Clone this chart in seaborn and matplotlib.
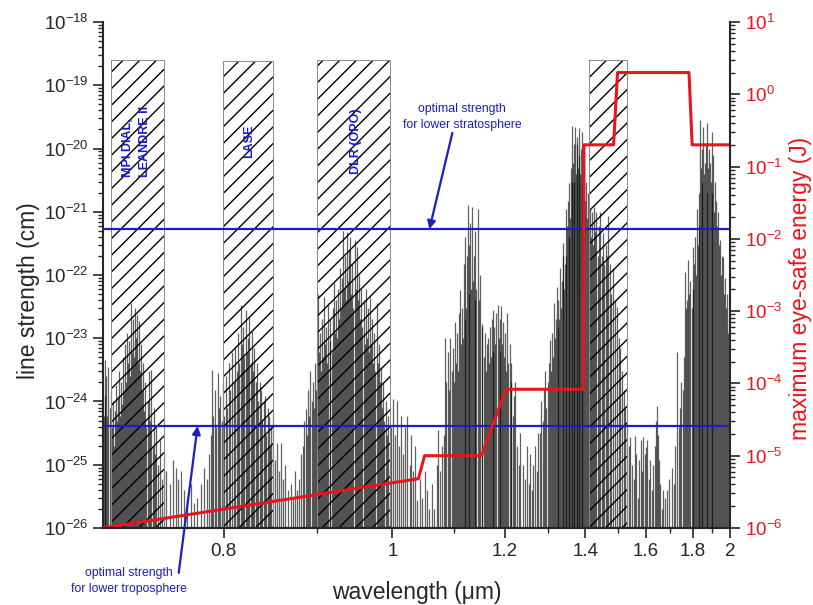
import numpy as np
import pandas as pd
import matplotlib
matplotlib.use("Agg")
import matplotlib.pyplot as plt
import seaborn as sns
from matplotlib.patches import Rectangle
from matplotlib.ticker import FixedLocator, FixedFormatter, LogLocator, NullFormatter

# ---------------- data ----------------
# absorption lines: wavelength (um) and line strength (cm)
band_070_wl = [0.7005, 0.7012, 0.7018, 0.7025, 0.7032, 0.7040, 0.7048, 0.7055, 0.7063, 0.7070,
               0.7078, 0.7085, 0.7093, 0.7100, 0.7108, 0.7115, 0.7122, 0.7130, 0.7137, 0.7145,
               0.7152, 0.7160, 0.7168, 0.7175, 0.7183, 0.7190, 0.7198, 0.7206, 0.7214, 0.7222,
               0.7230, 0.7238, 0.7245, 0.7252, 0.7260, 0.7268, 0.7276, 0.7284, 0.7292, 0.7300,
               0.7310, 0.7320, 0.7330, 0.7340, 0.7350, 0.7360, 0.7370, 0.7380, 0.7390, 0.7400,
               0.7410, 0.7425, 0.7440, 0.7455, 0.7470, 0.7490]
band_070_s = [6e-25, 4.5e-24, 1.2e-24, 2.5e-24, 6e-25, 3.5e-24, 8e-25, 1.5e-24, 4e-25, 1e-24,
              2e-25, 7e-25, 1.8e-24, 5e-25, 1.2e-24, 3e-24, 6e-25, 2e-24, 9e-25, 5e-24,
              1.5e-24, 8e-24, 2e-24, 1.2e-23, 4e-24, 9e-24, 2.5e-24, 3.6e-23, 6e-24, 2e-23,
              5e-24, 3e-23, 1e-23, 2.3e-23, 4e-24, 1.9e-23, 3e-24, 8e-24, 1.5e-24, 4e-24,
              7e-25, 2e-24, 4e-25, 1e-24, 3e-24, 5e-25, 3.2e-24, 2e-25, 8e-25, 1.5e-25,
              4e-25, 1e-25, 2.5e-25, 6e-26, 1.5e-25, 8e-26]

gap_075_wl = [0.7520, 0.7545, 0.7570, 0.7590, 0.7613, 0.7640, 0.7670, 0.7700, 0.7730, 0.7760,
              0.7790, 0.7820, 0.7845, 0.7865]
gap_075_s = [5e-26, 1.2e-25, 9e-26, 6e-26, 8e-26, 4e-26, 3e-26, 5e-26, 2.5e-26, 3e-26,
             5e-26, 9e-26, 6e-26, 1.5e-25]

band_080_wl = [0.7880, 0.7895, 0.7905, 0.7918, 0.7930, 0.7945, 0.7956, 0.7970, 0.7982, 0.7995,
               0.8008, 0.8020, 0.8035, 0.8050, 0.8065, 0.8080, 0.8095, 0.8110, 0.8125, 0.8140,
               0.8152, 0.8164, 0.8178, 0.8190, 0.8202, 0.8214, 0.8226, 0.8238, 0.8250, 0.8264,
               0.8277, 0.8290, 0.8300, 0.8315, 0.8330, 0.8345, 0.8360, 0.8370, 0.8385, 0.8400,
               0.8410, 0.8425, 0.8440, 0.8450, 0.8465, 0.8480, 0.8500, 0.8520, 0.8545, 0.8565,
               0.8580, 0.8605, 0.8630, 0.8660]
band_080_s = [3e-25, 3.2e-24, 6e-25, 1.5e-24, 4e-25, 2.8e-24, 8e-25, 1.2e-24, 5e-25, 2e-24,
              6e-25, 2.5e-24, 8e-25, 4e-24, 1.5e-24, 6e-24, 2e-24, 7e-24, 3e-24, 1.2e-23,
              4e-24, 3.4e-23, 8e-24, 1.5e-23, 5e-24, 2.8e-23, 6e-24, 1e-23, 2.2e-23, 4e-24,
              1.3e-23, 3e-24, 7e-24, 2e-24, 4e-24, 1e-24, 2e-24, 1.5e-24, 5e-25, 1e-24,
              1.2e-24, 3e-25, 8e-25, 6e-25, 2e-25, 4e-25, 6.5e-25, 1.2e-25, 2.2e-25, 8e-26,
              2.2e-25, 6e-26, 1e-25, 4e-26]

gap_087_wl = [0.8690, 0.8715, 0.8740, 0.8765, 0.8790, 0.8810]
gap_087_s = [5e-26, 3e-26, 8e-26, 4e-26, 6e-26, 1.5e-25]

band_094_wl = [0.8830, 0.8845, 0.8860, 0.8875, 0.8890, 0.8905, 0.8918, 0.8930, 0.8942, 0.8955,
               0.8968, 0.8980, 0.8992, 0.9005, 0.9018, 0.9030, 0.9043, 0.9056, 0.9068, 0.9080,
               0.9093, 0.9106, 0.9120, 0.9135, 0.9148, 0.9160, 0.9173, 0.9186, 0.9200, 0.9213,
               0.9226, 0.9240, 0.9253, 0.9266, 0.9280, 0.9293, 0.9306, 0.9320, 0.9333, 0.9346,
               0.9360, 0.9373, 0.9386, 0.9400, 0.9413, 0.9426, 0.9440, 0.9455, 0.9470, 0.9485,
               0.9500, 0.9515, 0.9530, 0.9545, 0.9560, 0.9575, 0.9590, 0.9605, 0.9620, 0.9635,
               0.9650, 0.9665, 0.9680, 0.9695, 0.9710, 0.9725, 0.9740, 0.9755, 0.9770, 0.9785,
               0.9800, 0.9815, 0.9830, 0.9845, 0.9860, 0.9880, 0.9900, 0.9920, 0.9940, 0.9960]
band_094_s = [2e-25, 5e-25, 7.5e-25, 3e-25, 1.5e-24, 6e-25, 3e-24, 1e-24, 2e-24, 8e-25,
              4e-24, 1.5e-24, 8e-24, 5e-23, 6e-24, 1.2e-23, 3e-24, 2e-23, 5e-24, 4.5e-23,
              8e-24, 1.5e-23, 4e-24, 3.6e-23, 9e-24, 2e-23, 6e-24, 3e-23, 7.5e-23, 1.2e-23,
              4e-23, 1e-23, 6e-23, 2e-23, 1.3e-22, 3e-23, 9e-23, 5e-22, 6e-23, 2e-22,
              4e-23, 4.8e-22, 8e-23, 2.5e-22, 4e-22, 5e-23, 1.5e-22, 3e-23, 3.6e-22, 6e-23,
              2.8e-22, 4e-23, 1e-22, 2e-23, 6e-23, 1.5e-23, 4e-23, 8e-24, 6e-23, 1e-23,
              3e-23, 6e-24, 4.5e-23, 8e-24, 2e-23, 4e-24, 1.2e-23, 3e-24, 3.6e-23, 4e-24,
              8e-24, 2e-24, 3.5e-24, 8e-25, 2e-24, 5e-25, 1e-24, 3e-25, 6e-25, 2e-25]

band_102_wl = [0.9985, 1.0010, 1.0040, 1.0075, 1.0100, 1.0130, 1.0160, 1.0190, 1.0227, 1.0260,
               1.0290, 1.0320, 1.0350, 1.0380, 1.0420, 1.0460, 1.0500, 1.0540, 1.0580, 1.0620]
band_102_s = [4e-25, 1.1e-24, 3e-25, 1e-24, 2e-25, 6e-25, 1.5e-25, 4e-25, 6e-25, 1e-25,
              3e-25, 8e-26, 2e-25, 2.8e-26, 6e-26, 3e-26, 8e-26, 4e-26, 2e-26, 5e-26]

band_114_wl = [1.0650, 1.0700, 1.0730, 1.0760, 1.0790, 1.0820, 1.0850, 1.0870, 1.0890, 1.0910,
               1.0938, 1.0960, 1.0985, 1.1005, 1.1028, 1.1045, 1.1060, 1.1080, 1.1100, 1.1118,
               1.1135, 1.1150, 1.1165, 1.1180, 1.1195, 1.1211, 1.1225, 1.1240, 1.1257, 1.1270,
               1.1285, 1.1304, 1.1320, 1.1340, 1.1355, 1.1370, 1.1385, 1.1400, 1.1420, 1.1448,
               1.1470, 1.1497, 1.1520, 1.1536, 1.1560, 1.1580, 1.1600, 1.1620, 1.1640, 1.1660,
               1.1680, 1.1700, 1.1720, 1.1740, 1.1760, 1.1780, 1.1800, 1.1820, 1.1844, 1.1865,
               1.1885, 1.1905, 1.1925, 1.1945, 1.1965, 1.1985, 1.2005, 1.2025, 1.2050, 1.2075,
               1.2100, 1.2120, 1.2140, 1.2165, 1.2190, 1.2224, 1.2260, 1.2300, 1.2336]
band_114_s = [2e-26, 1e-25, 3.5e-25, 8e-26, 2e-25, 3e-25, 1e-23, 2e-24, 6e-24, 1.5e-24,
              1e-23, 3e-24, 7e-24, 2e-24, 1.8e-23, 4e-24, 1.2e-23, 3e-24, 2.5e-23, 5.8e-23,
              8e-24, 3e-23, 1e-23, 1.5e-22, 2e-23, 4e-22, 3e-23, 2e-22, 1.3e-21, 5e-23,
              3e-22, 6.6e-22, 6e-23, 1.2e-21, 8e-23, 2e-22, 4e-23, 5e-22, 6e-23, 1.1e-21,
              4e-23, 1e-22, 1.5e-23, 1.7e-23, 5e-24, 1.2e-23, 3e-24, 8e-24, 1e-23, 4e-24,
              1.5e-23, 5e-24, 2e-23, 2.8e-23, 6e-24, 1.5e-23, 8e-24, 2.5e-23, 3.4e-23, 1e-23,
              2e-23, 6e-24, 3.2e-23, 8e-24, 1.8e-23, 5e-24, 1.2e-23, 3e-24, 2.5e-23, 4e-24,
              8e-24, 4e-24, 2e-24, 6e-25, 1.2e-24, 2e-24, 2e-25, 1e-25, 3.2e-25]

band_137_wl = [1.2400, 1.2450, 1.2490, 1.2530, 1.2570, 1.2605, 1.2640, 1.2680, 1.2720, 1.2760,
               1.2800, 1.2830, 1.2860, 1.2890, 1.2925, 1.2955, 1.2985, 1.3015, 1.3050, 1.3075,
               1.3100, 1.3125, 1.3150, 1.3175, 1.3200, 1.3220, 1.3240, 1.3260, 1.3280, 1.3307,
               1.3330, 1.3350, 1.3370, 1.3390, 1.3410, 1.3430, 1.3450, 1.3470, 1.3490, 1.3510,
               1.3530, 1.3550, 1.3570, 1.3590, 1.3610, 1.3630, 1.3650, 1.3670, 1.3690, 1.3710,
               1.3730, 1.3750, 1.3770, 1.3790, 1.3810, 1.3830, 1.3850, 1.3870, 1.3890, 1.3910,
               1.3935, 1.3960, 1.3985, 1.4010, 1.4040, 1.4070, 1.4100, 1.4130, 1.4160, 1.4190,
               1.4220, 1.4250, 1.4290, 1.4330, 1.4370, 1.4410, 1.4450, 1.4490, 1.4530, 1.4570,
               1.4610, 1.4650, 1.4700, 1.4750, 1.4800, 1.4860, 1.4920, 1.4980, 1.5040, 1.5090,
               1.5150, 1.5210, 1.5260, 1.5320]
band_137_s = [1e-25, 6e-26, 2e-25, 5e-26, 1.5e-25, 4e-26, 1e-25, 2e-25, 8e-26, 3.2e-25,
              3.2e-25, 1e-24, 5e-25, 1.5e-24, 3e-24, 8e-25, 2e-24, 4e-24, 9.5e-24, 3e-24,
              1.2e-23, 5e-24, 3.6e-23, 1e-23, 2e-23, 6.5e-23, 1.5e-23, 4e-23, 2e-23, 1.3e-22,
              3e-23, 8e-23, 2e-22, 3.2e-22, 6e-23, 1.5e-22, 1.1e-21, 2e-22, 6e-22, 1.5e-21,
              4e-22, 2.8e-21, 8e-22, 5e-21, 2.3e-20, 3e-21, 6e-21, 1.2e-20, 3e-21, 2.2e-20,
              4e-21, 1.5e-20, 1.2e-20, 5e-21, 8e-21, 2.1e-20, 4e-21, 1e-20, 3e-21, 1.8e-20,
              2e-21, 6e-21, 1.5e-21, 3e-21, 8e-22, 2e-21, 6e-22, 1.1e-21, 4e-22, 1e-21,
              3e-22, 1.2e-21, 5e-22, 1e-21, 2e-22, 6e-22, 1e-21, 2e-22, 4.6e-22, 1.5e-22,
              3e-22, 2e-22, 8.5e-22, 1.5e-22, 5e-23, 1.3e-22, 4e-23, 3.1e-23, 1e-23, 7e-24,
              3e-24, 1.5e-24, 8e-25, 4e-25]

band_162_wl = [1.5380, 1.5430, 1.5500, 1.5560, 1.5612, 1.5650, 1.5700, 1.5760, 1.5820, 1.5870,
               1.5910, 1.5960, 1.6010, 1.6060, 1.6110, 1.6172, 1.6230, 1.6290, 1.6350, 1.6410,
               1.6460, 1.6490, 1.6530, 1.6570, 1.6640, 1.6700, 1.6774, 1.6860, 1.6950, 1.7070,
               1.7150]
band_162_s = [2e-25, 2.7e-25, 1e-25, 6e-26, 2.8e-25, 1.5e-25, 3e-26, 1.2e-25, 2.5e-25, 8e-26,
              2.7e-25, 1.5e-25, 1.9e-25, 2.5e-25, 6e-26, 1.2e-25, 4e-26, 1e-25, 2e-25, 5e-25,
              8.6e-25, 3e-25, 1.2e-25, 5e-26, 2e-26, 4e-26, 3e-26, 4e-26, 6e-26, 9e-26,
              5e-26]

band_187_wl = [1.7200, 1.7290, 1.7350, 1.7420, 1.7480, 1.7540, 1.7600, 1.7650, 1.7700, 1.7750,
               1.7800, 1.7850, 1.7900, 1.7950, 1.8000, 1.8040, 1.8080, 1.8120, 1.8160, 1.8210,
               1.8250, 1.8290, 1.8330, 1.8370, 1.8410, 1.8450, 1.8490, 1.8530, 1.8570, 1.8620,
               1.8660, 1.8700, 1.8740, 1.8780, 1.8830, 1.8880, 1.8920, 1.8960, 1.9000, 1.9050,
               1.9100, 1.9150, 1.9200, 1.9240, 1.9300, 1.9350, 1.9415, 1.9470, 1.9530, 1.9590,
               1.9650, 1.9700, 1.9760, 1.9820, 1.9880, 1.9950]
band_187_s = [2e-25, 6e-24, 4e-25, 8e-25, 2e-24, 1.5e-24, 5e-24, 1.1e-22, 3e-23, 4e-23,
              1.7e-22, 5e-23, 8e-23, 3e-23, 2.8e-22, 6e-23, 1.5e-22, 4e-22, 1e-22, 1.1e-21,
              3e-22, 2e-21, 6e-22, 2.8e-20, 5e-21, 1e-20, 3e-21, 2.2e-20, 4e-21, 6e-21,
              1.2e-20, 2e-21, 2.5e-20, 5e-21, 1e-20, 6e-21, 3e-21, 1.8e-20, 2e-21, 8e-21,
              1e-21, 3e-21, 1.5e-21, 6e-22, 1e-21, 3e-22, 3.6e-22, 1e-22, 2e-22, 1.9e-22,
              5e-23, 9e-23, 3e-23, 5e-23, 1.2e-23, 2e-23]

# instrument windows (hatched boxes)
hatch_lo = [0.706, 0.799, 0.900, 1.410]
hatch_hi = [0.747, 0.850, 0.996, 1.531]
hatch_top = [2.5e-19, 2.4e-19, 2.5e-19, 2.5e-19]
hatch_labels = ["MPI DIAL,\nLEANDRE II", "LASE", "DLR (OPO)"]
hatch_label_x = [0.7250, 0.8245, 0.9490]
hatch_label_y = 1.3e-20

# optimal line strengths
opt_strat = 5.3e-22
opt_trop = 4.1e-25

# maximum eye-safe energy (J), right axis
red_wl = [0.700, 1.040, 1.050, 1.152, 1.202, 1.394, 1.396, 1.487, 1.500, 1.783, 1.798, 2.000]
red_E = [1e-6, 4.8e-6, 1e-5, 1e-5, 8.3e-5, 8.3e-5, 0.2, 0.2, 2.0, 2.0, 0.2, 0.2]

xticks = [0.8, 1.0, 1.2, 1.4, 1.6, 1.8, 2.0]
xtick_labels = ["0.8", "1", "1.2", "1.4", "1.6", "1.8", "2"]
xminor = [0.9, 1.1, 1.3, 1.5, 1.7, 1.9]
xlim = (0.70, 2.0)
ylim_left = (1e-26, 1e-18)
ylim_right = (1e-6, 1e1)

# ---------------- style ----------------
sns.set_style("ticks")
plt.rcParams["font.family"] = ["Liberation Sans", "DejaVu Sans"]
plt.rcParams["mathtext.fontset"] = "custom"
plt.rcParams["mathtext.rm"] = "Liberation Sans"
plt.rcParams["mathtext.it"] = "Liberation Sans:italic"
plt.rcParams["mathtext.bf"] = "Liberation Sans:bold"
plt.rcParams["hatch.linewidth"] = 1.0
plt.rcParams["axes.linewidth"] = 1.5

BLUE = "#1c1cc8"
RED = "#e8161c"

bands = [(band_070_wl, band_070_s), (gap_075_wl, gap_075_s), (band_080_wl, band_080_s),
         (gap_087_wl, gap_087_s), (band_094_wl, band_094_s), (band_102_wl, band_102_s),
         (band_114_wl, band_114_s), (band_137_wl, band_137_s), (band_162_wl, band_162_s),
         (band_187_wl, band_187_s)]
lines = pd.concat([pd.DataFrame({"wl": w, "S": s}) for w, s in bands], ignore_index=True)


def fwd(x):
    x = np.asarray(x, dtype=float)
    with np.errstate(divide="ignore", invalid="ignore"):
        return -1.0 / x


def inv(y):
    y = np.asarray(y, dtype=float)
    with np.errstate(divide="ignore", invalid="ignore"):
        return -1.0 / y


fig = plt.figure(figsize=(8.13, 6.05), dpi=100)
ax = fig.add_axes([0.1267, 0.1273, 0.898 - 0.1267, 0.9636 - 0.1273])
ax.set_xscale("function", functions=(fwd, inv))
ax.set_yscale("log")
ax.set_xlim(*xlim)
ax.set_ylim(*ylim_left)

# spectral lines
ax.vlines(lines["wl"], ylim_left[0], lines["S"], colors="black", alpha=0.62,
          linewidth=0.9, zorder=1)

# hatched windows
for lo, hi, top in zip(hatch_lo, hatch_hi, hatch_top):
    ax.add_patch(Rectangle((lo, ylim_left[0]), hi - lo, top - ylim_left[0],
                           facecolor="none", edgecolor="black", linewidth=0,
                           hatch="//", zorder=2))
    ax.add_patch(Rectangle((lo, ylim_left[0]), hi - lo, top - ylim_left[0],
                           facecolor="none", edgecolor="#8a8a8a", linewidth=0.7,
                           zorder=2.1))
for lab, xl in zip(hatch_labels, hatch_label_x):
    ax.text(xl, hatch_label_y, lab, rotation=90, ha="center", va="center",
            multialignment="left", color=BLUE, fontsize=9, fontweight="bold",
            linespacing=1.6, zorder=5)

# optimal strength lines
ax.axhline(opt_strat, color=BLUE, linewidth=1.6, zorder=4)
ax.axhline(opt_trop, color=BLUE, linewidth=1.6, zorder=4)

ax.text(1.1155, 3.15e-20, "optimal strength\nfor lower stratosphere", color=BLUE,
        fontsize=8.8, ha="center", va="center", linespacing=1.35)
ax.annotate("", xy=(1.0579, opt_strat), xytext=(1.0974, 1.76e-20),
            arrowprops=dict(arrowstyle="-|>", color=BLUE, lw=1.6, mutation_scale=12,
                            shrinkA=0, shrinkB=0))
ax.text(0.7191, 1.45e-27, "optimal strength\nfor lower troposphere", color=BLUE,
        fontsize=8.8, ha="center", va="center", linespacing=1.35, clip_on=False)
ax.annotate("", xy=(0.7761, opt_trop), xytext=(0.7596, 1.95e-27),
            arrowprops=dict(arrowstyle="-|>", color=BLUE, lw=1.6, mutation_scale=12,
                            shrinkA=0, shrinkB=0), annotation_clip=False)

# axes formatting (left / bottom)
ax.xaxis.set_major_locator(FixedLocator(xticks))
ax.xaxis.set_major_formatter(FixedFormatter(xtick_labels))
ax.xaxis.set_minor_locator(FixedLocator(xminor))
ax.xaxis.set_minor_formatter(NullFormatter())
ax.yaxis.set_major_locator(LogLocator(base=10, numticks=20))
ax.yaxis.set_minor_locator(LogLocator(base=10, subs=np.arange(2, 10), numticks=200))
ax.yaxis.set_minor_formatter(NullFormatter())
ax.tick_params(which="major", direction="out", length=7, width=1.2, labelsize=13.5)
ax.tick_params(which="minor", direction="out", length=3.5, width=1.0)
ax.spines["top"].set_visible(False)
ax.spines["right"].set_visible(False)
ax.set_xlabel("wavelength (\u03bcm)", fontsize=16.5)
ax.set_ylabel("line strength (cm)", fontsize=16.5)
ax.xaxis.set_label_coords(0.5, -0.105)
ax.yaxis.set_label_coords(-0.100, 0.47)

# right axis: eye-safe energy
ax2 = ax.twinx()
ax2.set_yscale("log")
ax2.set_ylim(*ylim_right)
sns.lineplot(x=red_wl, y=red_E, ax=ax2, color=RED, linewidth=2.2, sort=False,
             estimator=None)
ax2.set_xlim(*xlim)
ax2.yaxis.set_major_locator(LogLocator(base=10, numticks=20))
ax2.yaxis.set_minor_locator(LogLocator(base=10, subs=np.arange(2, 10), numticks=200))
ax2.yaxis.set_minor_formatter(NullFormatter())
ax2.tick_params(which="major", direction="out", length=7, width=1.2, labelsize=13.5,
                labelcolor=RED)
ax2.tick_params(which="minor", direction="out", length=3.5, width=1.0)
ax2.spines["top"].set_visible(False)
ax2.spines["left"].set_visible(False)
ax2.set_ylabel("maximum eye-safe energy (J)", fontsize=16.5, color=RED)
ax2.yaxis.set_label_coords(1.094, 0.474)

fig.savefig("out.png", dpi=100)
